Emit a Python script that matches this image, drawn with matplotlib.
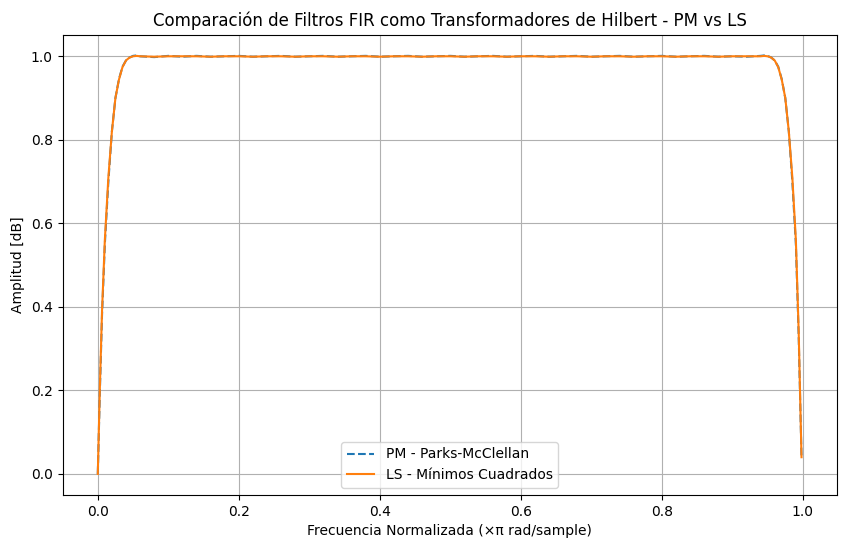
import matplotlib
matplotlib.use('Agg')
import matplotlib.pyplot as plt

# frequency points (normalized, x pi rad/sample)
freq = [0.0, 0.003, 0.006, 0.01, 0.015, 0.02, 0.025, 0.03, 0.035, 0.04, 0.045, 0.05, 0.055,
        0.06, 0.08, 0.1, 0.12, 0.14, 0.16, 0.18, 0.2, 0.22, 0.24, 0.26, 0.28, 0.3,
        0.32, 0.34, 0.36, 0.38, 0.4, 0.42, 0.44, 0.46, 0.48, 0.5, 0.52, 0.54, 0.56,
        0.58, 0.6, 0.62, 0.64, 0.66, 0.68, 0.7, 0.72, 0.74, 0.76, 0.78, 0.8, 0.82,
        0.84, 0.86, 0.88, 0.9, 0.92, 0.94, 0.945, 0.95, 0.955, 0.96, 0.965, 0.97,
        0.975, 0.98, 0.985, 0.99, 0.994, 0.998]
amp_pm = [0.0, 0.2, 0.38, 0.55, 0.7, 0.82, 0.9, 0.945, 0.975, 0.99, 0.997, 1.001, 1.002,
          1.0, 0.998, 1.001, 0.999, 1.001, 0.999, 1.0, 1.001, 0.999, 1.0, 1.001, 0.999, 1.0,
          1.001, 0.999, 1.0, 1.001, 0.999, 1.0, 1.001, 0.999, 1.0, 1.001, 0.999, 1.0, 1.001,
          0.999, 1.0, 1.001, 0.999, 1.0, 1.001, 0.999, 1.0, 1.001, 0.999, 1.0, 1.001, 0.999,
          1.0, 1.001, 0.999, 1.0, 0.999, 1.001, 1.002, 1.001, 0.997, 0.99, 0.975, 0.945,
          0.9, 0.82, 0.7, 0.55, 0.33, 0.04]
amp_ls = [0.0, 0.21, 0.39, 0.56, 0.71, 0.82, 0.9, 0.944, 0.974, 0.99, 0.997, 1.0, 1.001,
          1.0, 0.999, 1.0, 1.0, 1.0, 0.999, 1.0, 1.0, 0.999, 1.0, 1.0, 0.999, 1.0,
          1.0, 0.999, 1.0, 1.0, 0.999, 1.0, 1.0, 0.999, 1.0, 1.0, 0.999, 1.0, 1.0,
          0.999, 1.0, 1.0, 0.999, 1.0, 1.0, 0.999, 1.0, 1.0, 0.999, 1.0, 1.0, 0.999,
          1.0, 1.0, 0.999, 1.0, 1.0, 1.0, 1.001, 1.0, 0.997, 0.99, 0.974, 0.944,
          0.9, 0.82, 0.71, 0.56, 0.34, 0.04]

fig = plt.figure(figsize=(8.46, 5.48), dpi=100)
ax = fig.add_axes([0.074, 0.097, 0.915, 0.84])
ax.plot(freq, amp_pm, '--', label='PM - Parks-McClellan')
ax.plot(freq, amp_ls, label='LS - Mínimos Cuadrados')
ax.set_title('Comparación de Filtros FIR como Transformadores de Hilbert - PM vs LS')
ax.set_xlabel('Frecuencia Normalizada (×π rad/sample)')
ax.set_ylabel('Amplitud [dB]')
ax.grid(True)
ax.legend(loc='lower center')
fig.savefig('out.png', dpi=100)
